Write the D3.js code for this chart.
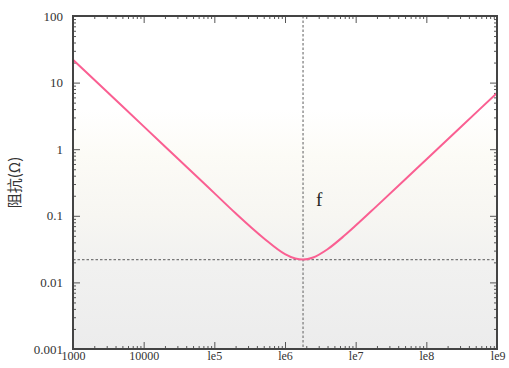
<!DOCTYPE html>
<html><head><meta charset="utf-8">
<script src="https://cdn.jsdelivr.net/npm/d3@7"></script>
<style>body{margin:0;background:#fff}svg{display:block}</style>
</head><body>
<script>
// Data
const freq = [1e3, 2e3, 5e3, 1e4, 2e4, 5e4, 1e5, 2e5, 5e5, 1e6, 1.4e6, 1.8e6, 2.5e6, 4e6, 7e6, 1e7, 2e7, 5e7, 1e8, 3e8, 1e9];
const impedance = [22.0, 11.0, 4.40, 2.20, 1.10, 0.440, 0.219, 0.109, 0.0461, 0.0266, 0.0228, 0.0220, 0.0237, 0.0315, 0.0509, 0.0713, 0.141, 0.350, 0.700, 2.10, 7.0];
const resonanceFreq = 1.8e6;
const minImpedance = 0.022;
const xTicks = [1e3, 1e4, 1e5, 1e6, 1e7, 1e8, 1e9];
const xTickLabels = ["1000", "10000", "le5", "le6", "le7", "le8", "le9"];
const yTicks = [0.001, 0.01, 0.1, 1, 10, 100];
const yTickLabels = ["0.001", "0.01", "0.1", "1", "10", "100"];
const yLabel = "阻抗(Ω)";
const markLabel = "f";

const W = 509, H = 368;
const m = {left: 73, right: 12, top: 16, bottom: 19};
const svg = d3.select("body").append("svg").attr("width", W).attr("height", H);
const x = d3.scaleLog().domain([1e3, 1e9]).range([m.left, W - m.right]);
const y = d3.scaleLog().domain([0.001, 100]).range([H - m.bottom, m.top]);

const defs = svg.append("defs");
const g = defs.append("linearGradient").attr("id", "bg").attr("x1", 0).attr("y1", 0).attr("x2", 0).attr("y2", 1);
[[0, "#ffffff"], [0.28, "#ffffff"], [0.42, "#fcfbf6"], [0.6, "#f7f6f2"], [0.75, "#f1f1f0"], [1, "#ececec"]]
  .forEach(([o, c]) => g.append("stop").attr("offset", o).attr("stop-color", c));

svg.append("rect").attr("x", m.left).attr("y", m.top)
  .attr("width", W - m.left - m.right).attr("height", H - m.top - m.bottom)
  .attr("fill", "url(#bg)");

// minor ticks
const minors = (lo, hi) => { const a = []; for (let e = lo; e < hi; e++) for (let k = 2; k <= 9; k++) a.push(k * Math.pow(10, e)); return a; };
const xMinor = minors(3, 9), yMinor = minors(-3, 2);

function styleAxis(sel) {
  sel.selectAll(".domain").remove();
  sel.selectAll("line").attr("stroke", "#555").attr("stroke-width", 1);
  sel.selectAll("text").attr("font-family", "'Liberation Serif', serif").attr("font-size", 13).attr("fill", "#333");
}
const fmtX = d => xTickLabels[xTicks.indexOf(d)];
const fmtY = d => yTickLabels[yTicks.findIndex(v => Math.abs(v - d) / v < 1e-6)];

// bottom
const bx = svg.append("g").attr("transform", `translate(0,${H - m.bottom})`)
  .call(d3.axisBottom(x).tickValues(xTicks).tickFormat(fmtX).tickSizeInner(-7).tickSizeOuter(0).tickPadding(4)).call(styleAxis);
bx.selectAll("text").attr("font-size", 12).attr("dy", "0.62em");
bx.selectAll(".tick").filter(d => d === 1e9).select("text").attr("text-anchor", "end").attr("dx", 8);
svg.append("g").attr("transform", `translate(0,${H - m.bottom})`)
  .call(d3.axisBottom(x).tickValues(xMinor).tickFormat("").tickSizeInner(-3).tickSizeOuter(0)).call(styleAxis);
// top
svg.append("g").attr("transform", `translate(0,${m.top})`)
  .call(d3.axisTop(x).tickValues(xTicks).tickFormat("").tickSizeInner(-7).tickSizeOuter(0)).call(styleAxis);
svg.append("g").attr("transform", `translate(0,${m.top})`)
  .call(d3.axisTop(x).tickValues(xMinor).tickFormat("").tickSizeInner(-3).tickSizeOuter(0)).call(styleAxis);
// left
svg.append("g").attr("transform", `translate(${m.left},0)`)
  .call(d3.axisLeft(y).tickValues(yTicks).tickFormat(fmtY).tickSizeInner(-7).tickSizeOuter(0).tickPadding(10)).call(styleAxis);
svg.append("g").attr("transform", `translate(${m.left},0)`)
  .call(d3.axisLeft(y).tickValues(yMinor).tickFormat("").tickSizeInner(-3).tickSizeOuter(0)).call(styleAxis);
// right
svg.append("g").attr("transform", `translate(${W - m.right},0)`)
  .call(d3.axisRight(y).tickValues(yTicks).tickFormat("").tickSizeInner(-7).tickSizeOuter(0)).call(styleAxis);
svg.append("g").attr("transform", `translate(${W - m.right},0)`)
  .call(d3.axisRight(y).tickValues(yMinor).tickFormat("").tickSizeInner(-3).tickSizeOuter(0)).call(styleAxis);

// dashed guide lines
svg.append("line").attr("x1", x(resonanceFreq)).attr("x2", x(resonanceFreq))
  .attr("y1", m.top).attr("y2", H - m.bottom)
  .attr("stroke", "#777").attr("stroke-width", 1.2).attr("stroke-dasharray", "2.5,2");
svg.append("line").attr("x1", m.left).attr("x2", W - m.right)
  .attr("y1", y(minImpedance)).attr("y2", y(minImpedance))
  .attr("stroke", "#777").attr("stroke-width", 1.2).attr("stroke-dasharray", "2.5,2");

// curve
const pts = freq.map((f, i) => [f, impedance[i]]);
svg.append("path").datum(pts)
  .attr("fill", "none").attr("stroke", "#fa5f92").attr("stroke-width", 2)
  .attr("d", d3.line().x(d => x(d[0])).y(d => y(d[1])).curve(d3.curveMonotoneX));

// frame
svg.append("rect").attr("x", m.left).attr("y", m.top)
  .attr("width", W - m.left - m.right).attr("height", H - m.top - m.bottom)
  .attr("fill", "none").attr("stroke", "#444").attr("stroke-width", 2);

// annotation
svg.append("text").attr("x", x(resonanceFreq) + 16).attr("y", y(0.1) - 10)
  .attr("text-anchor", "middle").attr("font-family", "'Liberation Serif', serif")
  .attr("font-size", 19).attr("fill", "#222").text(markLabel);

// y label
svg.append("text").attr("transform", `translate(20,${(m.top + H - m.bottom) / 2}) rotate(-90)`)
  .attr("text-anchor", "middle").attr("font-family", "'Noto Sans CJK SC', sans-serif")
  .attr("font-size", 15).attr("fill", "#333").text(yLabel);
</script>
</body></html>
